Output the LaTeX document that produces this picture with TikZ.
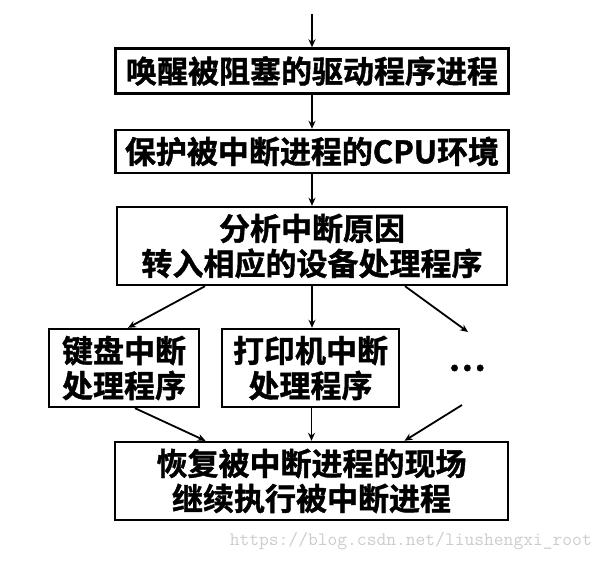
\documentclass[tikz,border=0pt]{standalone}
\usepackage{fontspec}
\setmainfont{Noto Sans CJK SC}[BoldFont={* Bold},BoldFeatures={FakeBold=1.3}]
\usetikzlibrary{arrows.meta,calc}
\begin{document}
\begin{tikzpicture}[x=1pt,y=1pt,
  box/.style={draw,line width=2.4pt,inner sep=0pt,align=center,
    font=\fontsize{31}{35}\selectfont\bfseries},
  arr/.style={line width=1.8pt,-{Stealth[length=8pt,width=7pt]}}]
\useasboundingbox (0,0) rectangle (604,560);
\node[box,minimum width=393,minimum height=45] (b1) at (312,489) {唤醒被阻塞的驱动程序进程};
\node[box,minimum width=393,minimum height=43] (b2) at (312,408.5) {保护被中断进程的CPU环境};
\node[box,minimum width=390,minimum height=78] (b3) at (312,314) {分析中断原因\\转入相应的设备处理程序};
\node[box,minimum width=150,minimum height=78] (kb) at (124,192) {键盘中断\\处理程序};
\node[box,minimum width=177,minimum height=78] (pr) at (310.5,192) {打印机中断\\处理程序};
\node[font=\fontsize{34}{35}\selectfont\bfseries] (dots) at (467,192) {…};
\node[box,minimum width=393,minimum height=78] (b4) at (311.5,79) {恢复被中断进程的现场\\继续执行被中断进程};
\node[text=black!20,font=\fontsize{19}{20}\selectfont\ttfamily,anchor=east,inner sep=0pt] (wm) at (592,19) {https://blog.csdn.net/liushengxi\_root};
\coordinate (top) at (312,546);
\coordinate (dtop) at (468,228);
\coordinate (dbot) at (462,155);
\draw[arr] (top) -- (b1.north);
\draw[arr] (b1.south) -- (b2.north);
\draw[arr] (b2.south) -- (b3.north);
\draw[arr] ([xshift=-107pt]b3.south) -- ([xshift=4pt]kb.north);
\draw[arr] (b3.south) -- (b3.south |- pr.north);
\draw[arr] ([xshift=93pt]b3.south) -- (dtop);
\draw[arr] ([xshift=11pt]kb.south) -- ([xshift=-106pt]b4.north);
\draw[arr] (pr.south -| b4.north) -- (b4.north);
\draw[arr] (dbot) -- ([xshift=93pt]b4.north);
\end{tikzpicture}
\end{document}
